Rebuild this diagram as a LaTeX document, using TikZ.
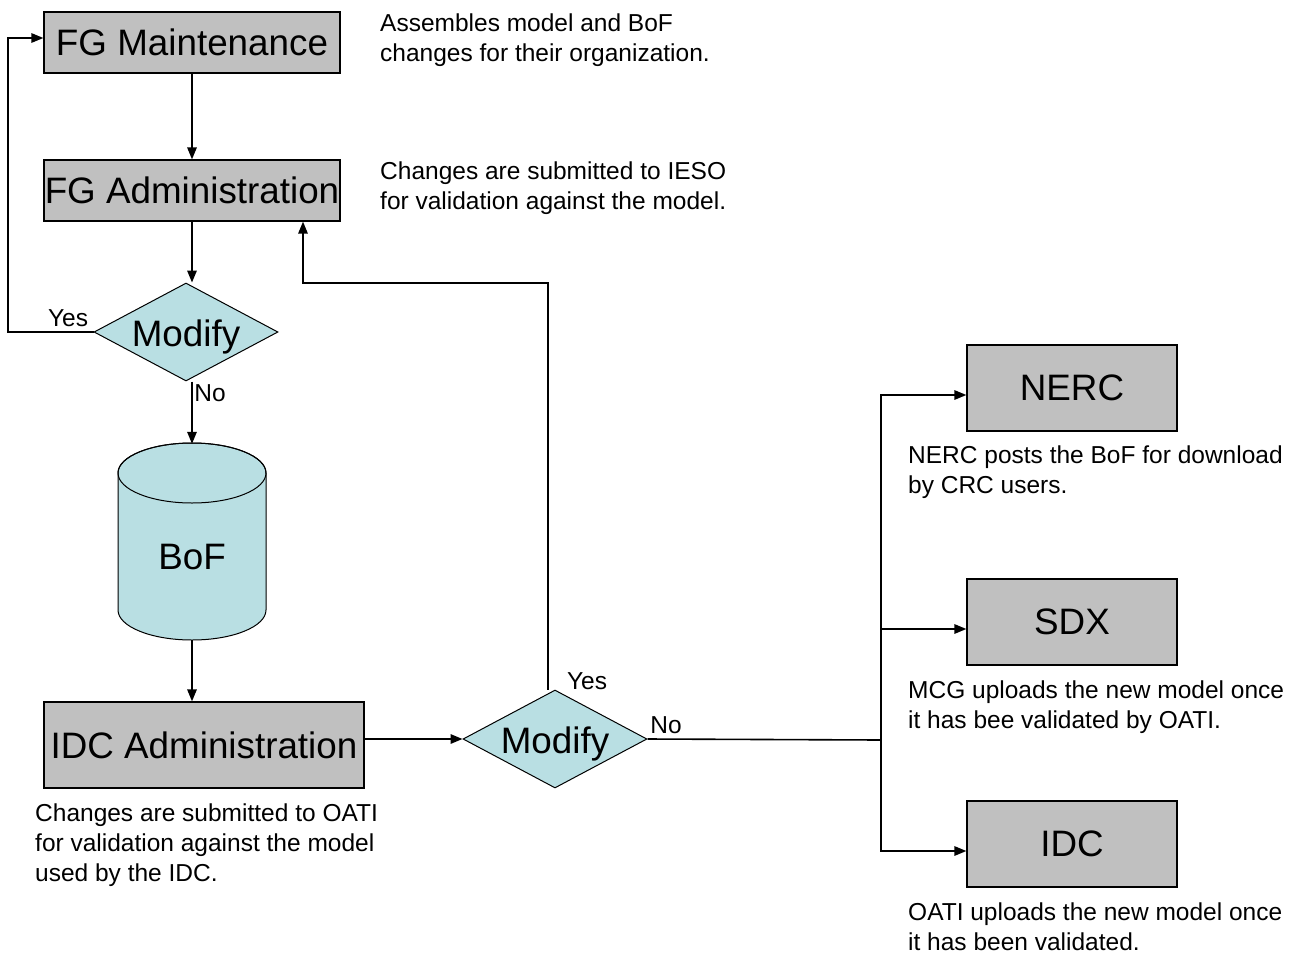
\documentclass[tikz,border=0pt]{standalone}
\usepackage{fontspec}
\setmainfont{Liberation Sans}
\usetikzlibrary{arrows.meta,shapes.geometric}
\definecolor{boxgray}{HTML}{C0C0C0}
\definecolor{decfill}{HTML}{B9DFE3}
\begin{document}
\begin{tikzpicture}[x=1pt,y=-1pt,
 box/.style={draw,fill=boxgray,line width=1.3pt,inner sep=0,font=\fontsize{36.8}{40}\selectfont},
 dec/.style={diamond,draw,fill=decfill,line width=1pt,inner sep=0,minimum width=184pt,minimum height=98pt,aspect=1.88,text height=30pt,text depth=1.2pt,font=\fontsize{36.8}{40}\selectfont},
 arr/.style={line width=1.6pt,-{Triangle[length=12pt,width=9.5pt]}},
 ln/.style={line width=1.6pt},
 note/.style={align=left,anchor=base west,inner sep=0,font=\fontsize{24.5}{30}\selectfont},
 lbl/.style={inner sep=0,font=\fontsize{24.5}{28}\selectfont}]
\useasboundingbox[fill=white] (0,0) rectangle (1291,956);

% boxes
\node[box,minimum width=296pt,minimum height=61pt] (fgm) at (192,42.5) {FG Maintenance};
\node[box,minimum width=296pt,minimum height=61pt] (fga) at (192,190.5) {FG Administration};
\node[box,minimum width=320pt,minimum height=86pt] (idc) at (204,745) {IDC Administration};
\node[box,minimum width=210pt,minimum height=86pt] (nerc) at (1072,388) {NERC};
\node[box,minimum width=210pt,minimum height=86pt] (sdx) at (1072,622) {SDX};
\node[box,minimum width=210pt,minimum height=86pt] (idc2) at (1072,844) {IDC};

% decisions
\node[dec] (mod1) at (186,332) {Modify};
\node[dec] (mod2) at (555,739) {Modify};

% cylinder
\node[minimum width=148pt,minimum height=196pt,inner sep=0] (bof) at (192,542) {};
\filldraw[fill=decfill,line width=1pt] (118,473) -- (118,610)
  arc[start angle=180,end angle=0,x radius=74,y radius=30] -- (266,473)
  arc[start angle=0,end angle=-180,x radius=74,y radius=30] -- cycle;
\draw[line width=1pt] (192,473) ellipse [x radius=74,y radius=30];
\node[font=\fontsize{36.8}{40}\selectfont,inner sep=0] (boft) at (192,557) {BoF};

% notes (anchored at the baseline of their last line)
\node[note] (n1) at (380,61) {Assembles model and BoF\\changes for their organization.};
\node[note] (n2) at (380,209) {Changes are submitted to IESO\\for validation against the model.};
\node[note] (n3) at (35,881) {Changes are submitted to OATI\\for validation against the model\\used by the IDC.};
\node[note] (n4) at (908,493) {NERC posts the BoF for download\\by CRC users.};
\node[note] (n5) at (908,728) {MCG uploads the new model once\\it has bee validated by OATI.};
\node[note] (n6) at (908,950) {OATI uploads the new model once\\it has been validated.};

% labels
\node[lbl] (y1) at (68,318) {Yes};
\node[lbl] (no1) at (210,393) {No};
\node[lbl] (y2) at (587,681) {Yes};
\node[lbl] (no2) at (666,725) {No};

% connectors
\coordinate (lp) at (8,332);
\coordinate (yb) at (303,283);
\coordinate (split) at (881,740);

\draw[arr] (fgm) -- (fga);
\draw[arr] (fga.south) -- (fga.south |- mod1.north);
\draw[arr] (mod1.west) -- (lp) |- ([yshift=4.5pt]fgm.west);
\draw[arr] (bof.north |- mod1.south) -- (bof.north);
\draw[arr] (bof.south) -- (bof.south |- idc.north);
\draw[arr] (idc.east |- mod2.west) -- (mod2.west);
\draw[arr] ([xshift=-7pt]mod2.north) |- (yb) -- (yb |- fga.south);
\draw[ln] (mod2.east) -- (split);
\draw[arr] (split) |- ([yshift=-7pt]nerc.west);
\draw[arr] (split) |- ([yshift=-7pt]sdx.west);
\draw[arr] (split) |- ([yshift=-7pt]idc2.west);
\end{tikzpicture}
\end{document}
